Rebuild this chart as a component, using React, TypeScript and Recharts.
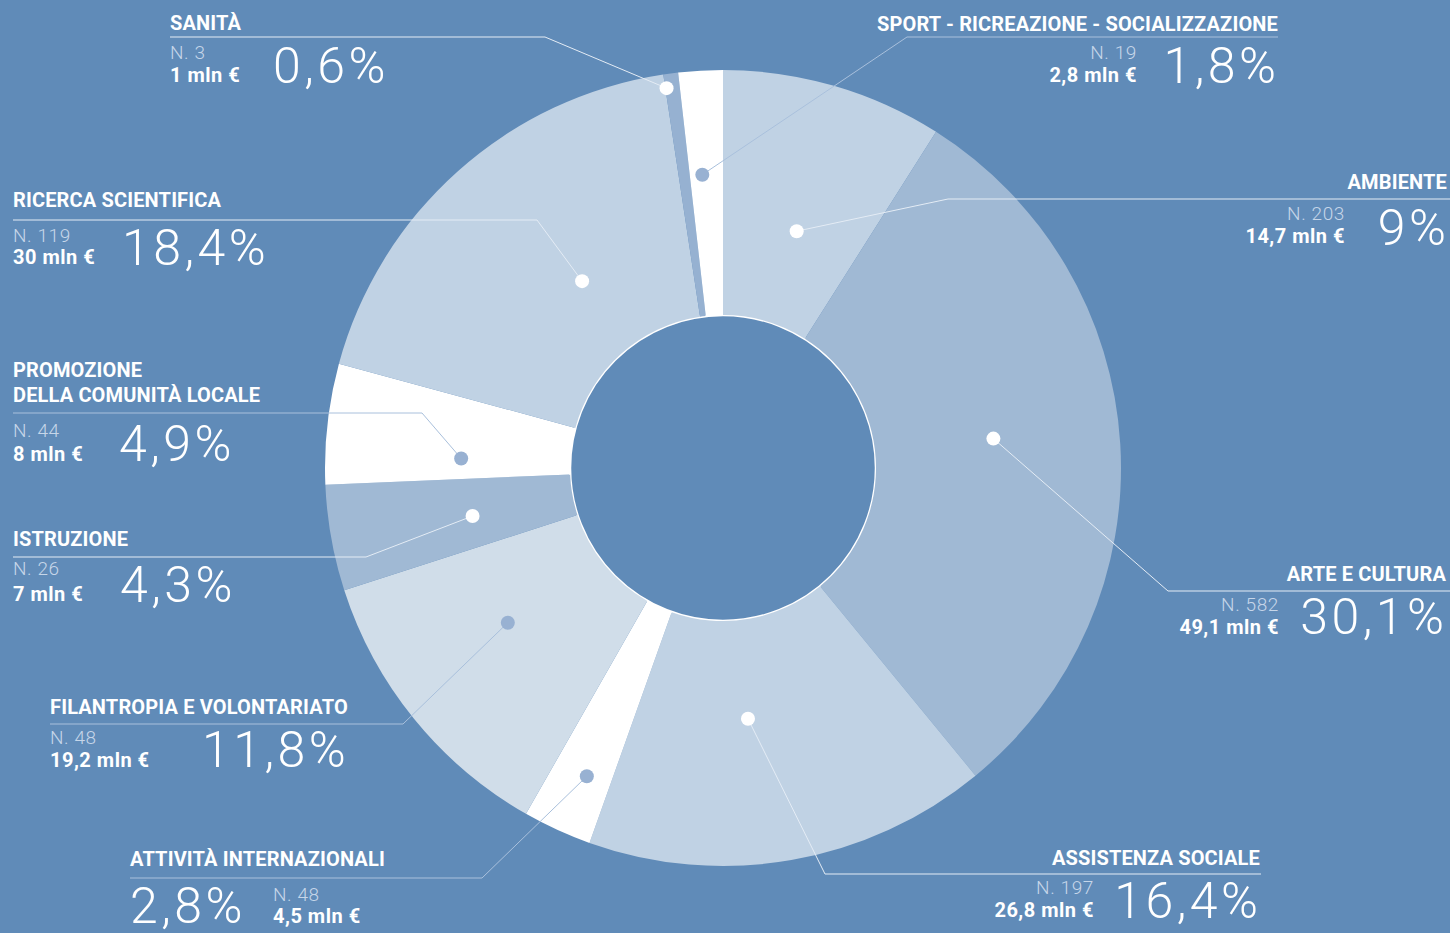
import React from 'react'
import { PieChart, Pie, Cell, Customized } from 'recharts'

const categories = [
  'Ambiente',
  'Arte e cultura',
  'Assistenza sociale',
  'Attività internazionali',
  'Filantropia e volontariato',
  'Istruzione',
  'Promozione\ndella comunità locale',
  'Ricerca scientifica',
  'Sanità',
  'Sport - ricreazione - socializzazione',
]
const shares = [9, 30.1, 16.4, 2.8, 11.8, 4.3, 4.9, 18.4, 0.6, 1.8]
const counts = [203, 582, 197, 48, 48, 26, 44, 119, 3, 19]
const amounts = ['14,7', '49,1', '26,8', '4,5', '19,2', '7', '8', '30', '1', '2,8']

const BG = '#608bb8'
const CX = 723
const CY = 468

const sliceColors = ['#c0d2e4', '#a0b9d4', '#c0d2e4', '#ffffff', '#d0dde9', '#a0b9d4', '#ffffff', '#c0d2e4', '#96b1d1', '#ffffff']
const dotColors = ['#fff', '#fff', '#fff', '#98b1d2', '#98b1d2', '#fff', '#98b1d2', '#fff', '#fff', '#98b1d2']

if (typeof document !== 'undefined') document.body.style.margin = '0'

type Layout = {
  anchor: 'start' | 'end'
  infoAnchor: 'start' | 'end'
  tx: number
  ty: number
  lineY: number
  lineFar: number
  elbowX: number
  ix: number
  nY: number
  mY: number
  px: number
  pY: number
  dotR: number
  dotDa: number
}

// label placement, same order as categories
const layout: Layout[] = [
  { anchor: 'end', infoAnchor: 'end', tx: 1447, ty: 189, lineY: 199, lineFar: 1450, elbowX: 948, ix: 1345, nY: 220, mY: 243, px: 1446, pY: 245, dotR: 248, dotDa: -1.1 },
  { anchor: 'end', infoAnchor: 'end', tx: 1446, ty: 581, lineY: 591, lineFar: 1450, elbowX: 1168, ix: 1279, nY: 611, mY: 634, px: 1444, pY: 634, dotR: 272, dotDa: 2.7 },
  { anchor: 'end', infoAnchor: 'end', tx: 1260, ty: 865, lineY: 874, lineFar: 1261, elbowX: 825, ix: 1094, nY: 894, mY: 917, px: 1258, pY: 918, dotR: 252, dotDa: -4.2 },
  { anchor: 'start', infoAnchor: 'start', tx: 130, ty: 866, lineY: 878, lineFar: 130, elbowX: 482, ix: 273, nY: 901, mY: 923, px: 130, pY: 923, dotR: 337, dotDa: 0.8 },
  { anchor: 'start', infoAnchor: 'start', tx: 50, ty: 714, lineY: 724, lineFar: 50, elbowX: 403, ix: 50, nY: 744, mY: 767, px: 202, pY: 767, dotR: 265, dotDa: -3.4 },
  { anchor: 'start', infoAnchor: 'start', tx: 13, ty: 546, lineY: 557, lineFar: 13, elbowX: 366, ix: 13, nY: 575, mY: 601, px: 120, pY: 602, dotR: 255, dotDa: 0.7 },
  { anchor: 'start', infoAnchor: 'start', tx: 13, ty: 377, lineY: 413, lineFar: 13, elbowX: 422, ix: 13, nY: 437, mY: 461, px: 119, pY: 461, dotR: 262, dotDa: 4.3 },
  { anchor: 'start', infoAnchor: 'start', tx: 13, ty: 207, lineY: 220, lineFar: 13, elbowX: 537, ix: 13, nY: 242, mY: 264, px: 122, pY: 265, dotR: 234, dotDa: -4.7 },
  { anchor: 'start', infoAnchor: 'start', tx: 170, ty: 30, lineY: 37, lineFar: 170, elbowX: 545, ix: 170, nY: 59, mY: 82, px: 273, pY: 83, dotR: 384, dotDa: 0.9 },
  { anchor: 'end', infoAnchor: 'end', tx: 1278, ty: 31, lineY: 37, lineFar: 1278, elbowX: 907, ix: 1137, nY: 59, mY: 82, px: 1276, pY: 83, dotR: 294, dotDa: 0.8 },
]

const data = categories.map((name, i) => ({
  name,
  value: shares[i],
  count: counts[i],
  amount: amounts[i],
}))

const RAD = Math.PI / 180
const fmtPct = (v: number) => `${String(v).replace('.', ',')}%`

const FONT = 'Roboto, "DejaVu Sans", sans-serif'
const PCT_SPACING = 3.5

function renderLabel(props: any) {
  const { cx, cy, midAngle, index } = props
  const l = layout[index]
  const d = data[index]
  const a = (midAngle + l.dotDa) * RAD
  const dx = cx + l.dotR * Math.cos(a)
  const dy = cy - l.dotR * Math.sin(a)
  const isWhite = dotColors[index] === '#fff'
  const lineColor = isWhite ? '#e4ecf5' : '#a9c0dc'
  const titleLines = d.name.toUpperCase().split('\n')
  // trailing letter-spacing pushes end-anchored text left, compensate
  const pctX = l.anchor === 'end' ? l.px + PCT_SPACING : l.px
  return (
    <g key={`lbl-${index}`}>
      <polyline
        points={`${l.lineFar},${l.lineY} ${l.elbowX},${l.lineY} ${dx},${dy}`}
        fill="none"
        stroke={lineColor}
        strokeWidth={1}
      />
      <circle cx={dx} cy={dy} r={7} fill={dotColors[index]} />
      {titleLines.map((t, k) => (
        <text
          key={k}
          x={l.tx}
          y={l.ty + k * 25}
          textAnchor={l.anchor}
          fill="#fff"
          fontFamily={FONT}
          fontWeight={700}
          fontSize={20}
          letterSpacing={0.15}
        >
          {t}
        </text>
      ))}
      <text x={l.ix} y={l.nY} textAnchor={l.infoAnchor} fill="#c6d6e9" fontFamily={FONT} fontWeight={300} fontSize={19} letterSpacing={0.6}>
        {`N. ${d.count}`}
      </text>
      <text x={l.ix} y={l.mY} textAnchor={l.infoAnchor} fill="#fff" fontFamily={FONT} fontWeight={700} fontSize={20} letterSpacing={0.5}>
        {`${d.amount} mln €`}
      </text>
      <text x={pctX} y={l.pY} textAnchor={l.anchor} fill="#fff" fontFamily={FONT} fontWeight={300} fontSize={50} letterSpacing={PCT_SPACING}>
        {fmtPct(d.value)}
      </text>
    </g>
  )
}

export default function App() {
  return (
    <div style={{ width: 1450, height: 933, background: BG, overflow: 'hidden' }}>
      <PieChart width={1450} height={933} margin={{ top: 0, right: 0, bottom: 0, left: 0 }}>
        <Pie
          data={data}
          dataKey="value"
          nameKey="name"
          cx={CX}
          cy={CY}
          innerRadius={153}
          outerRadius={398}
          startAngle={90}
          endAngle={-270}
          stroke="none"
          label={renderLabel}
          labelLine={false}
          isAnimationActive={false}
        >
          {data.map((_, i) => (
            <Cell key={i} fill={sliceColors[i]} />
          ))}
        </Pie>
        <Customized
          component={() => <circle cx={CX} cy={CY} r={153} fill={BG} stroke="#fff" strokeWidth={2.5} />}
        />
      </PieChart>
    </div>
  )
}
